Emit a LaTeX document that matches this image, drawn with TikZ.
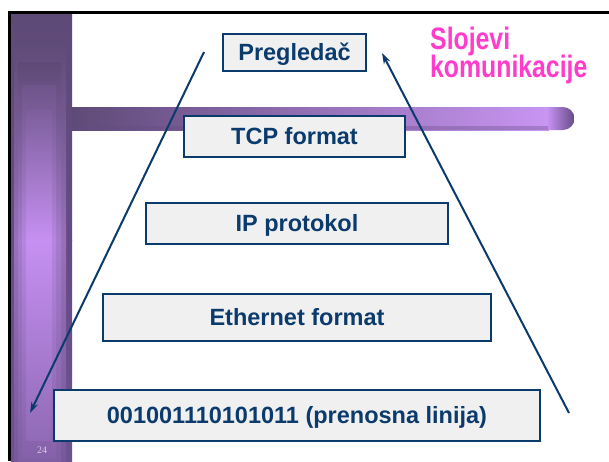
\documentclass[tikz,border=0pt]{standalone}
\usepackage{fontspec}
\setmainfont{Liberation Sans}
\newfontfamily\numfont{Liberation Serif}
\usetikzlibrary{arrows.meta}

\definecolor{navy}{HTML}{0B3B6C}
\definecolor{boxgray}{HTML}{F0F0F0}
\definecolor{titlepink}{HTML}{FF3CCB}
\definecolor{barDark}{HTML}{5E4A77}
\definecolor{barLight}{HTML}{C690F2}
\definecolor{barEdge}{HTML}{654B84}
\definecolor{barLow}{HTML}{6E5290}
\definecolor{pagenum}{HTML}{D8CCE8}

% one strip of the vertical bar: dark at the top, light in the middle, darker again below
% #1 left, #2 right, #3 top, #4 middle, #5 bottom, #6 top colour, #7 middle colour, #8 bottom colour
\newcommand\barstrip[8]{%
  \shade[top color=#6, bottom color=#7] (#1,#3) rectangle (#2,#4);
  \shade[top color=#7, bottom color=#8] (#1,#4) rectangle (#2,#5);
}

\begin{document}
\begin{tikzpicture}[x=1pt,y=-1pt,
  layerbox/.style={draw=navy, line width=2pt, fill=boxgray, inner sep=0pt,
    text=navy, font=\fontsize{23.5}{27}\selectfont\bfseries,
    text height=16.8pt, text depth=0pt},
  conn/.style={draw=navy, line width=2pt, -{Stealth[length=11pt,width=7pt]}},
  title/.style={anchor=base west, inner sep=0pt, text=titlepink,
    font=\fontsize{31}{31}\selectfont\bfseries}
]
\useasboundingbox (0,0) rectangle (609,461);
\fill[white] (0,0) rectangle (609,461);

% vertical bar on the left, built from nested shaded strips
\barstrip{11}{72}{14}{240}{461}{barDark}{barEdge}{barLow}
\barstrip{14}{66}{40}{240}{461}{barDark}{barDark!45!barLight}{barLow!90!barLight}
\barstrip{18}{61}{62}{240}{461}{barDark}{barDark!30!barLight}{barLow!80!barLight}
\barstrip{22}{56}{85}{240}{458}{barDark!85!barLight}{barDark!15!barLight}{barLow!75!barLight}
\barstrip{26}{52}{110}{240}{440}{barDark!70!barLight}{barLight}{barLow!60!barLight}

% horizontal bar with a rounded end
\shade[left color=barDark, right color=barLight!95!white] (72,107) rectangle (549,130);
\fill[barEdge, opacity=0.35] (72,126) rectangle (549,130);
\shade[left color=barLight, right color=barEdge]
  (548,107) -- (563,107) arc[start angle=-90, end angle=90, radius=11.5] -- (548,130) -- cycle;

% slide frame
\draw[black, line width=3pt] (9.5,461) -- (9.5,12.5) -- (609,12.5);

% layer boxes
\node[layerbox, minimum width=143pt, minimum height=37pt] (browser) at (294.5,52.5) {Pregleda\v{c}};
\node[layerbox, minimum width=221pt, minimum height=41pt] (tcp) at (294.5,136.5) {TCP format};
\node[layerbox, minimum width=302pt, minimum height=41pt] (ip) at (297,223.5) {IP protokol};
\node[layerbox, minimum width=388pt, minimum height=47pt] (eth) at (297,317.5) {Ethernet format};
\node[layerbox, minimum width=486pt, minimum height=51pt] (line) at (297,415.5) {001001110101011 (prenosna linija)};

% sending path down and receiving path up
\coordinate (downstart) at (204,52);
\coordinate (downend) at (30,413);
\coordinate (upstart) at (569,413);
\coordinate (upend) at (382,53);
\draw[conn] (downstart) -- (downend);
\draw[conn] (upstart) -- (upend);

% title
\node[title] (t1) at (430,49) {\scalebox{0.8}[1]{Slojevi}};
\node[title] (t2) at (430,77) {\scalebox{0.8}[1]{komunikacije}};

% page number
\node[anchor=base, inner sep=0pt, text=pagenum, font=\numfont\fontsize{10}{11}\selectfont] (pg) at (42,453) {24};
\end{tikzpicture}
\end{document}
